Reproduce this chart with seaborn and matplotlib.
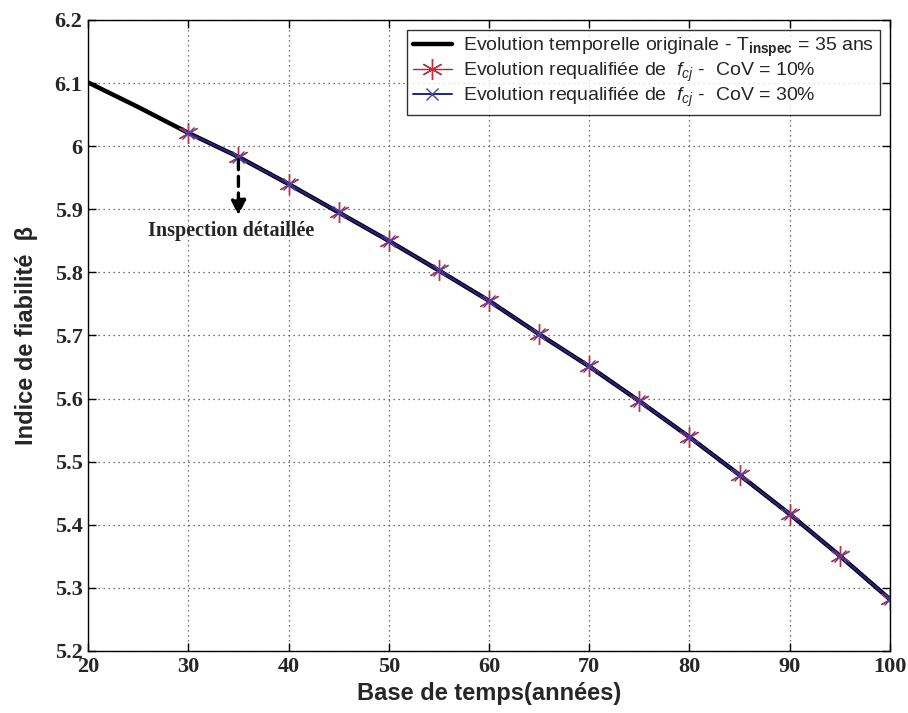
import numpy as np
import pandas as pd
import seaborn as sb
import matplotlib.pyplot as plt

# données
annees_orig = [20, 25, 30, 35, 40, 45, 50, 55, 60, 65, 70, 75, 80, 85, 90, 95, 100]
beta_orig = [6.101, 6.062, 6.021, 5.983, 5.940, 5.895, 5.850, 5.803, 5.755, 5.702,
             5.651, 5.596, 5.539, 5.479, 5.417, 5.351, 5.282]

annees_req = [30, 35, 40, 45, 50, 55, 60, 65, 70, 75, 80, 85, 90, 95, 100]
beta_cov10 = [6.021, 5.983, 5.940, 5.895, 5.850, 5.803, 5.755, 5.702, 5.651, 5.596,
              5.539, 5.479, 5.417, 5.351, 5.282]
beta_cov30 = [6.021, 5.983, 5.940, 5.895, 5.850, 5.803, 5.755, 5.702, 5.651, 5.596,
              5.539, 5.479, 5.417, 5.351, 5.282]

lab_orig = r"Evolution temporelle originale - T$_{\mathbf{inspec}}$ = 35 ans"
lab_10 = r"Evolution requalifiée de  $f_{cj}$ -  CoV = 10%"
lab_30 = r"Evolution requalifiée de  $f_{cj}$ -  CoV = 30%"

df_orig = pd.DataFrame({"annee": annees_orig, "beta": beta_orig})
df_req = pd.DataFrame({"annee": annees_req, "cov10": beta_cov10, "cov30": beta_cov30})

sb.set_style("whitegrid")
plt.rcParams['font.family'] = ['Liberation Sans', 'DejaVu Sans']
plt.rcParams['mathtext.fontset'] = 'custom'
plt.rcParams['mathtext.rm'] = 'Liberation Sans'
plt.rcParams['mathtext.it'] = 'Liberation Sans:italic'
plt.rcParams['mathtext.bf'] = 'Liberation Sans:bold'

fig = plt.figure(figsize=(9.08, 7.13), dpi=100)
ax = fig.add_axes([0.097, 0.087, 0.883, 0.885])

sb.lineplot(data=df_orig, x="annee", y="beta", ax=ax, color="black", linewidth=3.2,
            label=lab_orig)
sb.lineplot(data=df_req, x="annee", y="cov10", ax=ax, color="#b02040", linewidth=1,
            marker=(6, 2, 0), markersize=15, markeredgecolor="#c03040",
            markeredgewidth=1, label=lab_10)
sb.lineplot(data=df_req, x="annee", y="cov30", ax=ax, color="#202090", linewidth=1.4,
            marker="x", markersize=9, markeredgecolor="#4040c0",
            markeredgewidth=1, label=lab_30)

# annotation inspection
ax.annotate("", xy=(35, 5.886), xytext=(35, 5.983),
            arrowprops=dict(arrowstyle="-|>", color="black", lw=2.4, linestyle=(0, (3, 2)),
                            mutation_scale=22))
ax.text(34.3, 5.866, "Inspection détaillée", ha="center", va="center",
        fontsize=14.5, fontweight="bold", family="Liberation Serif")

ax.set_xlim(20, 100)
ax.set_ylim(5.2, 6.2)
ax.set_xticks(np.arange(20, 101, 10))
ax.set_yticks(np.arange(5.2, 6.21, 0.1))
ax.set_yticklabels(["5.2", "5.3", "5.4", "5.5", "5.6", "5.7", "5.8", "5.9", "6", "6.1", "6.2"])

for lab in ax.get_xticklabels() + ax.get_yticklabels():
    lab.set_fontfamily("Liberation Serif")
    lab.set_fontweight("bold")
    lab.set_fontsize(16)

ax.grid(True, color="#444444", linestyle=(0, (1, 3)), linewidth=0.9)
ax.tick_params(direction="in", length=6, width=1, color="black", top=True, right=True,
               bottom=True, left=True, pad=4)
for sp in ax.spines.values():
    sp.set_color("black")
    sp.set_linewidth(1)

ax.set_xlabel("Base de temps(années)", fontsize=17, fontweight="bold", labelpad=4)
ax.set_ylabel("Indice de fiabilité  β", fontsize=17, fontweight="bold", labelpad=12)

leg = ax.legend(loc="upper right", fontsize=14, frameon=True, fancybox=False,
                edgecolor="black", borderpad=0.3, labelspacing=0.1,
                handlelength=2.0, handletextpad=0.6, borderaxespad=0.5)
leg.get_frame().set_linewidth(1)

fig.savefig("out.png", dpi=100)
